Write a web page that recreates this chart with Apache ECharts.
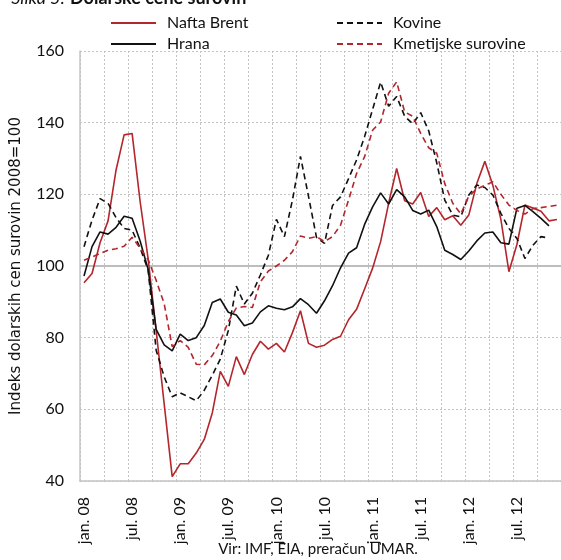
<!DOCTYPE html>
<html>
<head>
<meta charset="utf-8">
<script src="https://cdn.jsdelivr.net/npm/echarts@6/dist/echarts.min.js"></script>
<style>
  html, body { margin: 0; padding: 0; background: #fff; }
  #chart { width: 561px; height: 560px; }
</style>
</head>
<body>
<div id="chart"></div>
<script>
// kategorije: mesečni podatki jan. 2008 - dec. 2012
const years = ["08", "09", "10", "11", "12"];
const monthNames = ["jan.", "feb.", "mar.", "apr.", "maj.", "jun.", "jul.", "avg.", "sep.", "okt.", "nov.", "dec."];

const naftaBrent = [
    95.3, 97.9, 106.5, 112.6, 126.8, 136.6, 137.0, 118.0, 102.0, 82.0, 61.5, 41.2,
    44.8, 44.8, 47.8, 51.6, 59.0, 70.6, 66.4, 74.7, 69.7, 75.3, 79.0, 76.8,
    78.4, 76.0, 81.4, 87.5, 78.4, 77.3, 77.9, 79.5, 80.4, 85.0, 87.9, 93.6,
    99.4, 106.8, 117.5, 127.2, 118.2, 117.3, 120.5, 113.8, 116.3, 112.9, 114.0, 111.4,
    114.2, 123.0, 129.2, 122.5, 113.0, 98.4, 106.0, 117.0, 116.2, 115.3, 112.6, 113.0
];
const hrana = [
    97.2, 105.4, 109.5, 108.9, 110.8, 113.9, 113.3, 107.0, 99.0, 82.3, 78.0, 76.3,
    81.0, 79.2, 80.0, 83.4, 89.8, 90.8, 87.1, 86.3, 83.3, 84.1, 87.2, 88.9,
    88.2, 87.8, 88.6, 90.9, 89.2, 86.8, 90.3, 94.5, 99.5, 103.6, 105.1, 111.6,
    116.5, 120.4, 117.3, 121.3, 119.3, 115.5, 114.5, 115.6, 111.0, 104.4, 103.2, 101.8,
    104.2, 107.0, 109.2, 109.5, 106.5, 106.1, 116.1, 116.9, 115.2, 113.3, 111.2
];
const kovine = [
    105.4, 112.8, 118.8, 117.5, 113.5, 110.5, 110.0, 105.0, 98.9, 76.5, 69.1, 63.5,
    64.6, 63.5, 62.4, 65.3, 69.5, 74.0, 82.0, 94.4, 89.4, 92.4, 97.5, 103.0,
    113.0, 108.2, 118.4, 130.6, 119.5, 108.0, 106.3, 116.9, 119.3, 124.4, 129.6, 136.1,
    143.7, 151.3, 144.6, 147.3, 141.8, 139.7, 142.8, 137.7, 128.8, 118.4, 114.2, 113.7,
    119.8, 122.6, 121.9, 119.8, 114.7, 110.5, 107.7, 102.1, 105.8, 108.2, 107.8
];
const kmetijske = [
    101.6, 102.5, 103.5, 104.4, 104.8, 105.5, 108.0, 105.0, 101.8, 96.0, 89.5, 77.5,
    79.2, 77.3, 72.6, 72.4, 75.0, 79.0, 84.5, 88.3, 88.7, 88.4, 95.6, 98.6,
    100.0, 101.6, 104.0, 108.4, 107.7, 108.2, 106.8, 108.2, 111.4, 118.4, 125.8, 130.5,
    137.9, 140.2, 148.2, 151.4, 143.0, 141.8, 137.0, 133.0, 131.5, 123.0, 117.5, 114.5,
    119.5, 121.5, 122.5, 123.5, 120.0, 117.0, 115.5, 114.5, 116.0, 116.3, 116.6, 117.0
];

const categories = [];
years.forEach(y => monthNames.forEach(m => categories.push(m + " " + y)));

const RED = "#b3262c";
const BLACK = "#111111";
const GRID = "#c4c4c4";
const FONT = "Lato";

const chart = echarts.init(document.getElementById("chart"));

const legendItem = (name, left, top) => ({
    data: [name],
    left: left,
    top: top,
    itemWidth: 45,
    itemHeight: 14,
    selectedMode: false,
    itemStyle: { opacity: 0 },
    textStyle: { fontFamily: FONT, fontSize: 16, color: "#111", padding: [0, 0, 0, 6] }
});

const lineSeries = (name, data, color, type) => ({
    name: name,
    type: "line",
    data: data,
    symbol: "none",
    lineStyle: { color: color, width: 1.6, type: type === "dashed" ? [6, 4] : "solid" },
    itemStyle: { color: color },
    z: 3
});

chart.setOption({
    animation: false,
    backgroundColor: "#fff",
    graphic: [
        {
            type: "text", x: 65, y: 7,
            style: { text: "Slika 5:", fontFamily: FONT, fontSize: 18, fontStyle: "italic", fill: "#111", align: "right", verticalAlign: "bottom" }
        },
        {
            type: "text", x: 70, y: 7,
            style: { text: "Dolarske cene surovin", fontFamily: FONT, fontSize: 18, fontWeight: "bold", fill: "#111", align: "left", verticalAlign: "bottom" }
        },
        {
            type: "text", x: 318, y: 549,
            style: { text: "Vir: IMF, EIA, preračun UMAR.", fontFamily: FONT, fontSize: 15, fill: "#111", align: "center", verticalAlign: "middle" }
        }
    ],
    legend: [
        legendItem("Nafta Brent", 105, 10),
        legendItem("Kovine", 331, 10),
        legendItem("Hrana", 105, 31),
        legendItem("Kmetijske surovine", 331, 31)
    ],
    grid: { left: 80, top: 51, width: 483, height: 430 },
    xAxis: {
        type: "category",
        data: categories,
        boundaryGap: true,
        axisLine: { lineStyle: { color: GRID, width: 1.5 } },
        axisTick: { show: false },
        axisLabel: {
            interval: 5,
            rotate: 90,
            margin: 16,
            fontFamily: FONT,
            fontSize: 16,
            color: "#111"
        },
        splitLine: { show: true, interval: 2, lineStyle: { color: GRID, type: [2, 2], width: 1 } }
    },
    yAxis: {
        type: "value",
        min: 40,
        max: 160,
        interval: 20,
        name: "Indeks dolarskih cen surovin 2008=100",
        nameLocation: "middle",
        nameGap: 56,
        nameTextStyle: { fontFamily: "DejaVu Sans", fontSize: 15, color: "#111" },
        axisLine: { show: true, lineStyle: { color: GRID, width: 1.5 } },
        axisTick: { show: false },
        axisLabel: { margin: 16, fontFamily: FONT, fontSize: 16, color: "#111" },
        splitLine: { show: true, lineStyle: { color: GRID, type: [2, 2], width: 1 } }
    },
    series: [
        Object.assign(lineSeries("Nafta Brent", naftaBrent, RED, "solid"), {
            markLine: {
                silent: true,
                symbol: "none",
                label: { show: false },
                lineStyle: { color: "#bdbdbd", type: "solid", width: 2 },
                data: [{ yAxis: 100 }],
                z: 1
            }
        }),
        lineSeries("Kovine", kovine, BLACK, "dashed"),
        lineSeries("Hrana", hrana, BLACK, "solid"),
        lineSeries("Kmetijske surovine", kmetijske, RED, "dashed")
    ]
});
</script>
</body>
</html>
